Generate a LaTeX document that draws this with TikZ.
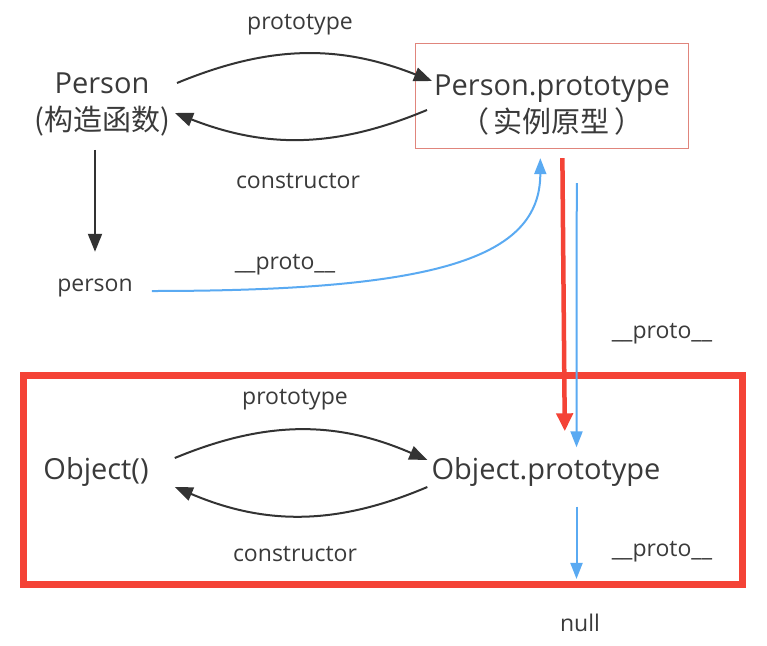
\documentclass[tikz,border=0pt]{standalone}
\usepackage{fontspec}
\setmainfont{Open Sans}
\newfontfamily\cjk{Noto Sans CJK SC}
\usetikzlibrary{arrows.meta,positioning}
\definecolor{txtGrey}{HTML}{3A3A3A}
\definecolor{linkBlue}{HTML}{5AAAF2}
\definecolor{frameRed}{HTML}{F44336}
\definecolor{boxRed}{HTML}{E0857C}
\tikzset{
  obj/.style={font=\fontsize{29}{37}\selectfont, text=txtGrey, align=center,
        inner sep=2pt},
  inst/.style={font=\fontsize{23}{27}\selectfont, text=txtGrey, inner sep=2pt},
  lbl/.style={font=\fontsize{23}{26}\selectfont, text=txtGrey, inner sep=1pt},
  arr/.style={-{Triangle[length=18pt,width=14pt]}, line width=2pt, draw=black!80},
  parr/.style={-{Triangle[length=16pt,width=12pt]}, line width=2pt, draw=linkBlue},
  rarr/.style={-{Triangle[length=18pt,width=16pt]}, line width=4.5pt, draw=frameRed}
}
\begin{document}
\begin{tikzpicture}[x=1pt, y=-1pt]
\useasboundingbox[fill=white] (0,0) rectangle (767,645);

% constructor and its prototype
\node[obj] (ctor)   at (102,104) {Person\\{\cjk (构造函数)}};
\node[obj] (pproto) at (552,105) {Person.prototype\\{\cjk （\,实例原型\,）}};
\node[draw=boxRed, line width=0.8pt, minimum width=273, minimum height=105]
     (pbox) at (552.3,96.3) {};
\node[inst] (person) at (95,288) {person};

% Object level
\node[obj] (octor)  at (96,472)  {Object()};
\node[obj] (oproto) at (546,472) {Object.prototype};
\node[inst] (null)  at (580,623) {null};
\node[draw=frameRed, line width=7pt, minimum width=719, minimum height=208.5]
     (objframe) at (383,479.75) {};

% labels
\node[lbl] (l1) at (300,25)  {prototype};
\node[lbl] (l2) at (298,181) {constructor};
\node[lbl] (l3) at (285,265) {\_\_proto\_\_};
\node[lbl] (l4) at (662,334) {\_\_proto\_\_};
\node[lbl] (l5) at (295,400) {prototype};
\node[lbl] (l6) at (295,554) {constructor};
\node[lbl] (l7) at (662,552) {\_\_proto\_\_};

% arrows
\draw[arr] ([xshift=5pt,yshift=21pt]ctor.east) to[bend left=22] ([yshift=24pt]pproto.west);
\draw[arr] ([xshift=-5pt,yshift=-5pt]pproto.west) to[bend left=22] ([xshift=3pt,yshift=-9pt]ctor.east);
\draw[arr, shorten <=12pt, shorten >=25pt] (person.north |- ctor.south) -- (person.north);
\draw[parr, shorten <=17pt, shorten >=9pt] ([yshift=-3pt]person.east)
      to[out=0, in=-90, out looseness=1.8, in looseness=0.65] ([xshift=-12pt]pbox.south);
\draw[rarr, shorten <=9pt, shorten >=24pt] ([xshift=10pt]pbox.south) -- ([xshift=19pt]oproto.north);
\draw[parr, shorten <=34pt, shorten >=8pt] ([xshift=24.5pt]pbox.south) -- ([xshift=30.5pt]oproto.north);
\draw[arr] ([xshift=24pt,yshift=14pt]octor.east) to[bend left=23] ([xshift=-2pt,yshift=12pt]oproto.west);
\draw[arr] ([xshift=-2pt,yshift=-15pt]oproto.west) to[bend left=23] ([xshift=24pt,yshift=-15pt]octor.east);
\draw[parr, shorten <=18pt, shorten >=33pt] ([xshift=30.5pt]oproto.south) -- ([xshift=30.5pt]oproto.south |- null.north);
\end{tikzpicture}
\end{document}
